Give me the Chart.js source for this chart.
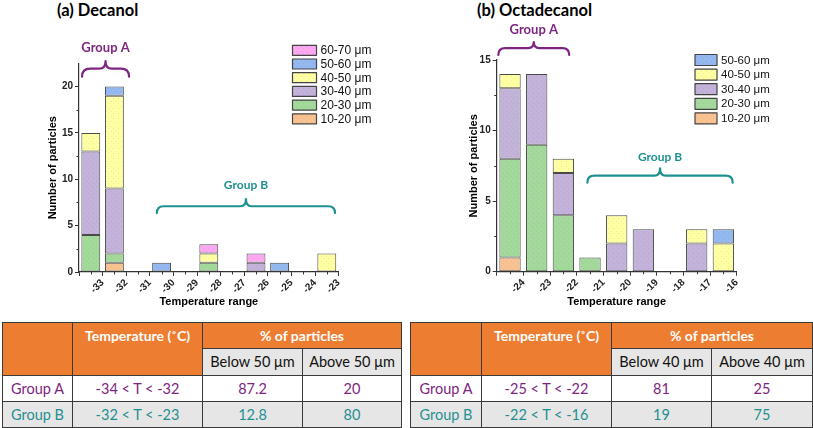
<!DOCTYPE html>
<html><head><meta charset="utf-8">
<script src="https://cdn.jsdelivr.net/npm/chart.js@4.4.1/dist/chart.umd.min.js"></script>
<style>
html,body{margin:0;padding:0;background:#fff;}
body{width:813px;height:428px;position:relative;overflow:hidden;font-family:Lato,'Liberation Sans',sans-serif;}
.ttl{position:absolute;font-weight:bold;font-size:16.5px;color:#000;white-space:nowrap;line-height:20px;}
canvas{position:absolute;top:0;}
#cA{left:0;}
#cB{left:405px;}
table{position:absolute;top:322px;border-collapse:collapse;table-layout:fixed;font-family:Lato,'Liberation Sans',sans-serif;font-size:14.5px;}
td{border:1px solid #3a3a3a;text-align:center;padding:0;white-space:nowrap;overflow:hidden;}
td.or{background:#ED7D31;color:#fff;font-weight:bold;font-size:14px;}
td.sub{background:#E7E6E6;color:#111;}
tr.gB td{background:#E7E6E6;}
</style></head>
<body>
<div class="ttl" style="left:57px;top:0px;">(a) Decanol</div>
<div class="ttl" style="left:477px;top:0px;">(b) Octadecanol</div>
<canvas id="cA" width="405" height="315"></canvas>
<canvas id="cB" width="408" height="315"></canvas>
<table id="tA" style="left:2px;"></table>
<table id="tB" style="left:410px;"></table>
<script>
// ---------- DATA ----------
const sizeClasses = ['10-20 μm','20-30 μm','30-40 μm','40-50 μm','50-60 μm','60-70 μm'];
const sizeColors  = ['#F9C391','#A3DA9B','#C3B2DA','#FFFFA3','#94B8F0','#FFA8F2'];

// (a) Decanol: temperature bins from -34 to -23 (1 °C wide)
const binsA = ['-34/-33','-33/-32','-32/-31','-31/-30','-30/-29','-29/-28','-28/-27','-27/-26','-26/-25','-25/-24','-24/-23'];
const edgeLabelsA = ['','-33','-32','-31','-30','-29','-28','-27','-26','-25','-24','-23'];
const yTicksA = [0,5,10,15,20];
const a10_20 = [0,1,0,0,0,0,0,0,0,0,0];
const a20_30 = [4,1,0,0,0,1,0,0,0,0,0];
const a30_40 = [9,7,0,0,0,0,0,1,0,0,0];
const a40_50 = [2,10,0,0,0,1,0,0,0,0,2];
const a50_60 = [0,1,0,1,0,0,0,0,1,0,0];
const a60_70 = [0,0,0,0,0,1,0,1,0,0,0];

// (b) Octadecanol: temperature bins from -25 to -16
const binsB = ['-25/-24','-24/-23','-23/-22','-22/-21','-21/-20','-20/-19','-19/-18','-18/-17','-17/-16'];
const edgeLabelsB = ['','-24','-23','-22','-21','-20','-19','-18','-17','-16'];
const yTicksB = [0,5,10,15];
const b10_20 = [1,0,0,0,0,0,0,0,0];
const b20_30 = [7,9,4,1,0,0,0,0,0];
const b30_40 = [5,5,3,0,2,3,0,2,0];
const b40_50 = [1,0,1,0,2,0,0,1,2];
const b50_60 = [0,0,0,0,0,0,0,0,1];

// tables
const tblHeadA = ['Temperature (˚C)','% of particles'];
const tblSubA = ['Below 50 μm','Above 50 μm'];
const groups = ['Group A','Group B'];
const rangesA = ['-34 < T < -32','-32 < T < -23'];
const belowA = ['87.2','12.8'];
const aboveA = ['20','80'];
const tblSubB = ['Below 40 μm','Above 40 μm'];
const rangesB = ['-25 < T < -22','-22 < T < -16'];
const belowB = ['81','19'];
const aboveB = ['25','75'];
const groupColors = ['#7D2580','#1F9090'];

// ---------- helpers ----------
function shade(hex,f){const n=parseInt(hex.slice(1),16);const r=Math.round(((n>>16)&255)*f),g=Math.round(((n>>8)&255)*f),b=Math.round((n&255)*f);return `rgb(${r},${g},${b})`;}
function pat(base){
  const c=document.createElement('canvas');c.width=c.height=5;
  const x=c.getContext('2d');x.fillStyle=base;x.fillRect(0,0,5,5);
  x.fillStyle=shade(base,0.93);x.fillRect(1,1,1,1);x.fillRect(3,3,1,1);
  return x.createPattern(c,'repeat');
}
Chart.defaults.font.family="'Liberation Sans', Arial, sans-serif";
Chart.defaults.color='#222';

const deco={
  id:'deco',
  afterDraw(chart,args,o){
    const ctx=chart.ctx, xc=chart.scales.x, xt=chart.scales.xt, ys=chart.scales.y, ca=chart.chartArea;
    ctx.save();
    ctx.strokeStyle='#333';ctx.lineWidth=1;
    // minor ticks
    chart.data.labels.forEach((_,i)=>{const px=Math.round(xc.getPixelForValue(i))+0.5;ctx.beginPath();ctx.moveTo(px,ca.bottom);ctx.lineTo(px,ca.bottom+2.5);ctx.stroke();});
    for(let v=o.yMinor;v<ys.max;v+=o.yMinor*2){const py=Math.round(ys.getPixelForValue(v))+0.5;ctx.beginPath();ctx.moveTo(ca.left,py);ctx.lineTo(ca.left-2.5,py);ctx.stroke();}
    // braces & group labels
    o.groups.forEach(g=>{
      const x1=xt.getPixelForValue(g.from),x2=xt.getPixelForValue(g.to),ye=ys.getPixelForValue(g.y);
      const yb=ye-g.d1, yt=ye-g.d2, mid=(x1+x2)/2, r=g.d1;
      ctx.strokeStyle=g.color;ctx.lineWidth=2.2;ctx.lineJoin='round';ctx.lineCap='round';
      ctx.beginPath();ctx.moveTo(x1,ye);ctx.quadraticCurveTo(x1,yb,x1+r,yb);ctx.lineTo(mid-r*0.8,yb);
      ctx.quadraticCurveTo(mid,yb,mid,yt);ctx.quadraticCurveTo(mid,yb,mid+r*0.8,yb);ctx.lineTo(x2-r,yb);
      ctx.quadraticCurveTo(x2,yb,x2,ye);ctx.stroke();
      ctx.fillStyle=g.color;ctx.font=`bold ${g.fs}px Lato, 'Liberation Sans', sans-serif`;ctx.textAlign='center';ctx.textBaseline='middle';
      ctx.fillText(g.text,mid,ys.getPixelForValue(g.ty));
    });
    // legend
    const L=o.legend, ds=chart.data.datasets;
    ctx.font=`${L.fs}px 'Liberation Sans', Arial, sans-serif`;ctx.textAlign='left';ctx.textBaseline='middle';
    for(let k=0;k<ds.length;k++){
      const d=ds[ds.length-1-k], cy=L.y+k*L.step;
      ctx.fillStyle=d.backgroundColor;ctx.fillRect(L.x,cy-L.h/2,L.w,L.h);
      ctx.strokeStyle='#444';ctx.lineWidth=1.2;ctx.strokeRect(L.x,cy-L.h/2,L.w,L.h);
      ctx.fillStyle='#111';ctx.fillText(d.label,L.x+L.w+4,cy+0.5);
    }
    ctx.restore();
  }
};

function makeChart(id,bins,edges,series,yTicks,ymax,lay,decoOpts){
  const datasets=series.map((arr,i)=>({label:sizeClasses[i],data:arr.map(v=>v||null),backgroundColor:pat(sizeColors[i]),
    borderColor:'#4a4a4a',borderWidth:1,borderSkipped:false,categoryPercentage:1,barPercentage:0.8,xAxisID:'x',yAxisID:'y'}));
  return new Chart(document.getElementById(id),{
    type:'bar',
    data:{labels:bins,datasets},
    plugins:[deco],
    options:{
      responsive:false,animation:false,
      layout:{padding:lay.pad},
      plugins:{legend:{display:false},tooltip:{enabled:false},deco:decoOpts},
      scales:{
        x:{type:'category',stacked:true,display:false,offset:true},
        xt:{type:'category',labels:edges,position:'bottom',offset:false,weight:1,
          grid:{display:true,offset:false,drawOnChartArea:false,tickLength:4,color:'#333'},
          border:{display:true,color:'#333',width:1.2},
          ticks:{autoSkip:false,maxRotation:45,minRotation:45,padding:1,font:{size:10,weight:'bold'},color:'#222'},
          title:{display:true,text:'Temperature range',font:{size:11,weight:'bold'},color:'#000',padding:0},
          afterFit:s=>{s.height=lay.xh;}},
        y:{type:'linear',stacked:true,min:0,max:ymax,position:'left',
          afterBuildTicks:s=>{s.ticks=yTicks.map(v=>({value:v}));},
          grid:{display:true,drawOnChartArea:false,tickLength:4,color:'#333'},
          border:{display:true,color:'#333',width:1.2},
          ticks:{padding:2,font:{size:10,weight:'bold'},color:'#222'},
          title:{display:true,text:'Number of particles',font:{size:11,weight:'bold'},color:'#000',padding:0},
          afterFit:s=>{s.width=lay.yw;}}
      }
    }
  });
}

makeChart('cA',binsA,edgeLabelsA,[a10_20,a20_30,a30_40,a40_50,a50_60,a60_70],yTicksA,22.5,
  {pad:{left:46.4,right:66.4,top:63.4,bottom:6.4},yw:32.6,xh:36.6},
  {yMinor:2.5,legend:{x:292.5,y:50.3,step:13.7,w:24,h:10,fs:12},
   groups:[{text:'Group A',from:0.13,to:2.12,y:21.07,d1:8,d2:15.5,ty:24.16,fs:13,color:groupColors[0]},
           {text:'Group B',from:3.3,to:10.85,y:6.36,d1:6.8,d2:14,ty:9.39,fs:12,color:groupColors[1]}]});

makeChart('cB',binsB,edgeLabelsB,[b10_20,b20_30,b30_40,b40_50,b50_60],yTicksB,15,
  {pad:{left:62.4,right:76.3,top:60,bottom:6.4},yw:29.3,xh:36.9},
  {yMinor:2.5,legend:{x:290,y:60,step:14.6,w:22,h:11,fs:11.5},
   groups:[{text:'Group A',from:0.06,to:2.72,y:15.36,d1:6.8,d2:12.8,ty:17.13,fs:13,color:groupColors[0]},
           {text:'Group B',from:3.40,to:8.85,y:6.31,d1:7,d2:14.4,ty:8.09,fs:12,color:groupColors[1]}]});

// ---------- tables ----------
function buildTable(id,widths,sub,ranges,below,above){
  const t=document.getElementById(id);
  const cg=document.createElement('colgroup');
  widths.forEach(w=>{const c=document.createElement('col');c.style.width=w+'px';cg.appendChild(c);});
  t.appendChild(cg);
  const h=[26,26.5,26,26];
  let html=`<tr style="height:${h[0]}px"><td class="or" rowspan="2"></td><td class="or" rowspan="2" style="vertical-align:top;line-height:${h[0]}px">${tblHeadA[0]}</td><td class="or" colspan="2">${tblHeadA[1]}</td></tr>`;
  html+=`<tr style="height:${h[1]}px"><td class="sub">${sub[0]}</td><td class="sub">${sub[1]}</td></tr>`;
  groups.forEach((g,i)=>{
    html+=`<tr class="${i?'gB':'gA'}" style="height:${h[2+i]}px;color:${groupColors[i]}"><td>${g}</td><td>${ranges[i]}</td><td>${below[i]}</td><td>${above[i]}</td></tr>`;
  });
  t.insertAdjacentHTML('beforeend',html);
}
buildTable('tA',[70,130,100,99],tblSubA,rangesA,belowA,aboveA);
buildTable('tB',[71,130,100,101],tblSubB,rangesB,belowB,aboveB);
</script>
</body></html>
